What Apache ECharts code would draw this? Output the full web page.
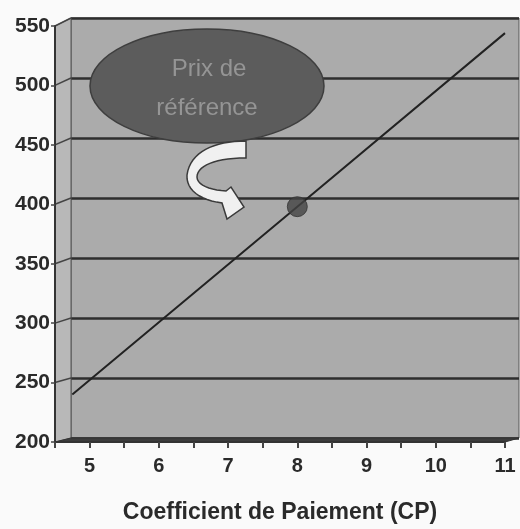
<!DOCTYPE html>
<html>
<head>
<meta charset="utf-8">
<script src="https://cdn.jsdelivr.net/npm/echarts@6/dist/echarts.min.js"></script>
<style>
  html, body { margin: 0; padding: 0; background: #fafafa; }
  #chart { width: 520px; height: 529px; }
</style>
</head>
<body>
<div id="chart"></div>
<script>
// Price line as a function of the payment coefficient (CP)
const cpValues = [4.75, 8, 11];
const priceValues = [240, 398, 544];
// Reference price point
const refCp = [8];
const refPrice = [398];
// Axis settings
const xMin = 4.5, xMax = 11, xStep = 0.5;
const yMin = 200, yMax = 550, yStep = 50;
const xTitle = 'Coefficient de Paiement (CP)';
const calloutLines = ['Prix de', 'référence'];

const FONT = '"Liberation Sans", Arial, sans-serif';
const chart = echarts.init(document.getElementById('chart'), null, { renderer: 'canvas' });

const linePoints = cpValues.map((x, i) => [x, priceValues[i]]);
const refPoints = refCp.map((x, i) => [x, refPrice[i]]);

chart.setOption({
  animation: false,
  backgroundColor: '#fafafa',
  grid: [
    // front plane (axes)
    { left: 55, right: 15, top: 26, bottom: 86, show: false },
    // back wall, pushed up and to the right for depth
    { left: 71, right: 1, top: 18, bottom: 91, show: true,
      backgroundColor: '#ababab', borderColor: '#555', borderWidth: 1 }
  ],
  xAxis: [
    {
      type: 'value', gridIndex: 0, min: xMin, max: xMax, interval: xStep, z: 3,
      axisLine: { show: true, lineStyle: { color: '#333', width: 2 } },
      axisTick: { show: true, length: 6, lineStyle: { color: '#444', width: 2 } },
      splitLine: { show: false },
      axisLabel: {
        margin: 14, color: '#2a2a2a', fontSize: 20, fontWeight: 'bold', fontFamily: FONT,
        formatter: v => (Number.isInteger(v) && v > xMin) ? String(v) : ''
      },
      name: xTitle, nameLocation: 'middle', nameGap: 59,
      nameTextStyle: { color: '#2a2a2a', fontSize: 23, fontWeight: 'bold', fontFamily: FONT }
    },
    {
      type: 'value', gridIndex: 1, min: xMin, max: xMax, interval: xStep, show: false
    }
  ],
  yAxis: [
    {
      type: 'value', gridIndex: 0, min: yMin, max: yMax, interval: yStep, z: 3,
      axisLine: { show: true, lineStyle: { color: '#333', width: 2 } },
      axisTick: { show: true, length: 4, lineStyle: { color: '#444', width: 1.5 } },
      splitLine: { show: false },
      axisLabel: { margin: 5, color: '#2a2a2a', fontSize: 21, fontWeight: 'bold', fontFamily: FONT }
    },
    {
      type: 'value', gridIndex: 1, min: yMin, max: yMax, interval: yStep, z: 1,
      axisLine: { show: false }, axisTick: { show: false }, axisLabel: { show: false },
      splitLine: { show: true, lineStyle: { color: '#2e2e2e', width: 2.5 } }
    }
  ],
  series: [
    {
      type: 'line', xAxisIndex: 0, yAxisIndex: 0, data: linePoints, z: 4,
      symbol: 'none', lineStyle: { color: '#222', width: 2 }
    },
    {
      type: 'scatter', xAxisIndex: 0, yAxisIndex: 0, data: refPoints, z: 5,
      symbol: 'circle', symbolSize: 20,
      itemStyle: { color: '#444', borderColor: '#333', borderWidth: 1 }
    }
  ]
});

// 3D decorations derived from the two grids: side wall, floor and slanted ticks
const front = (x, y) => chart.convertToPixel({ gridIndex: 0 }, [x, y]);
const back = (x, y) => chart.convertToPixel({ gridIndex: 1 }, [x, y]);

const graphics = [];
const fBL = front(xMin, yMin), fTL = front(xMin, yMax), fBR = front(xMax, yMin);
const bBL = back(xMin, yMin), bTL = back(xMin, yMax), bBR = back(xMax, yMin);

// left side wall
graphics.push({
  type: 'polygon', z: 1, silent: true,
  shape: { points: [fBL, fTL, bTL, bBL] },
  style: { fill: '#b8b8b8', stroke: '#555', lineWidth: 1 }
});
// floor
graphics.push({
  type: 'polygon', z: 2, silent: true,
  shape: { points: [fBL, bBL, bBR, fBR] },
  style: { fill: '#3c3c3c', stroke: '#333', lineWidth: 1 }
});
// slanted tick connectors across the side wall
for (let v = yMin + yStep; v <= yMax; v += yStep) {
  const a = front(xMin, v), b = back(xMin, v);
  graphics.push({
    type: 'line', z: 2, silent: true,
    shape: { x1: a[0], y1: a[1], x2: b[0], y2: b[1] },
    style: { stroke: '#444', lineWidth: 1.5 }
  });
}

// cubic bezier sampling for the curved arrow outline
function bezier(p0, p1, p2, p3, n) {
  const pts = [];
  for (let i = 1; i <= n; i++) {
    const t = i / n, u = 1 - t;
    pts.push([
      u * u * u * p0[0] + 3 * u * u * t * p1[0] + 3 * u * t * t * p2[0] + t * t * t * p3[0],
      u * u * u * p0[1] + 3 * u * u * t * p1[1] + 3 * u * t * t * p2[1] + t * t * t * p3[1]
    ]);
  }
  return pts;
}
const arrowPts = [[246, 141]]
  .concat(bezier([246, 141], [214, 141], [190, 152], [187, 175], 16))
  .concat(bezier([187, 175], [186, 190], [200, 200], [222, 203], 12))
  .concat([[227, 219], [244, 207], [231, 187], [226, 191]])
  .concat(bezier([226, 191], [210, 190], [197, 185], [197, 177], 10))
  .concat(bezier([197, 177], [197, 166], [215, 158], [246, 158], 14));

// "Prix de référence" callout with curved arrow
graphics.push({
  type: 'ellipse', z: 10, silent: true,
  shape: { cx: 207, cy: 86, rx: 117, ry: 57 },
  style: { fill: '#5c5c5c', stroke: '#3e3e3e', lineWidth: 1.5 }
});
graphics.push({
  type: 'text', z: 11, silent: true,
  style: { x: 209, y: 69, text: calloutLines[0], align: 'center', verticalAlign: 'middle',
           fill: '#959595', font: '24px ' + FONT }
});
graphics.push({
  type: 'text', z: 11, silent: true,
  style: { x: 207, y: 108, text: calloutLines[1], align: 'center', verticalAlign: 'middle',
           fill: '#959595', font: '24px ' + FONT }
});
graphics.push({
  type: 'polygon', z: 10, silent: true,
  shape: { points: arrowPts },
  style: { fill: '#f0f0f0', stroke: '#3a3a3a', lineWidth: 1.5 }
});

chart.setOption({ graphic: graphics });
</script>
</body>
</html>
